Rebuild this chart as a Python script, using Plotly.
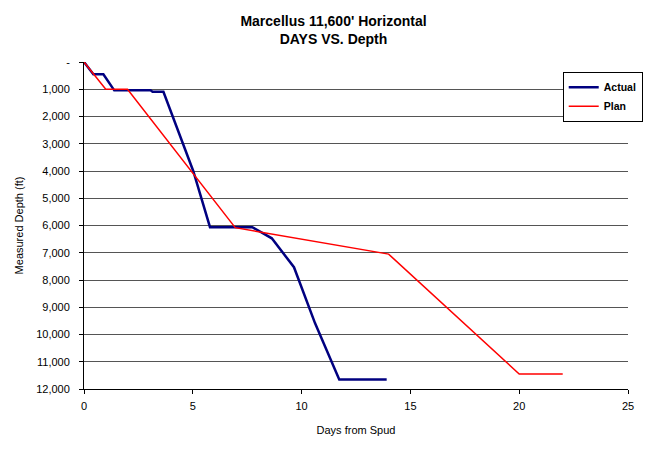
import plotly.graph_objects as go

actual_days = [0, 0.43, 0.89, 1.39, 3.06, 3.15, 3.65, 4.56, 5.02, 5.79, 7.73, 8.63, 9.65, 10.62, 11.73, 13.91]
actual_depth = [0, 450, 450, 1040, 1040, 1090, 1090, 2985, 4000, 6060, 6060, 6470, 7530, 9590, 11650, 11650]

plan_days = [0, 1, 2, 6.95, 14, 20, 22]
plan_depth = [0, 1000, 1000, 6080, 7050, 11450, 11450]

y_tickvals = [0, 1000, 2000, 3000, 4000, 5000, 6000, 7000, 8000, 9000, 10000, 11000, 12000]
y_ticktext = ["-", "1,000", "2,000", "3,000", "4,000", "5,000", "6,000", "7,000",
              "8,000", "9,000", "10,000", "11,000", "12,000"]
x_tickvals = [0, 5, 10, 15, 20, 25]

FONT = "Liberation Sans, Arial, sans-serif"

fig = go.Figure()
fig.add_trace(go.Scatter(x=actual_days, y=actual_depth, mode="lines", name="<b>Actual</b>",
                         line=dict(color="#000080", width=2.5)))
fig.add_trace(go.Scatter(x=plan_days, y=plan_depth, mode="lines", name="<b>Plan</b>",
                         line=dict(color="#FF0000", width=1.5)))

fig.update_layout(
    width=651, height=441,
    margin=dict(l=76, r=31, t=54, b=60, autoexpand=False),
    paper_bgcolor="white", plot_bgcolor="white",
    font=dict(family=FONT, size=11, color="black"),
    title=dict(text="<b>Marcellus 11,600' Horizontal<br>DAYS VS. Depth</b>",
               x=0.5, xanchor="center", y=0.96, yanchor="top",
               font=dict(size=14, family=FONT)),
    legend=dict(x=0.88, y=0.97, xanchor="left", yanchor="top",
                bgcolor="white", bordercolor="black", borderwidth=1,
                font=dict(size=10.5, family=FONT), tracegroupgap=0,
                itemwidth=30),
    showlegend=True,
)
fig.update_xaxes(range=[0, 25], tickvals=x_tickvals, showgrid=False, zeroline=False,
                 showline=True, linecolor="black", linewidth=1,
                 ticks="outside", ticklen=4, tickcolor="black", automargin=False,
                 ticklabelstandoff=3,
                 title=dict(text="Days from Spud", font=dict(size=11), standoff=15),
                 tickfont=dict(size=11))
fig.update_yaxes(range=[12000, 0], tickvals=y_tickvals, ticktext=y_ticktext,
                 showgrid=True, gridcolor="#555555", gridwidth=1, zeroline=False,
                 showline=True, linecolor="black", linewidth=1,
                 ticks="outside", ticklen=4, tickcolor="black", automargin=False,
                 ticklabelstandoff=7,
                 title=dict(text="Measured Depth (ft)", font=dict(size=11), standoff=10),
                 tickfont=dict(size=11))

fig.write_html("out.html")
